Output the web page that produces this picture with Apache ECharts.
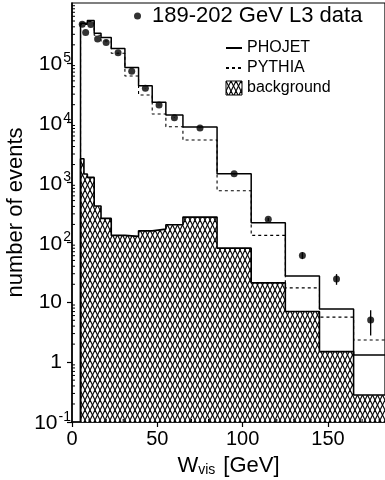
<!DOCTYPE html>
<html>
<head>
<meta charset="utf-8">
<script src="https://cdn.jsdelivr.net/npm/echarts@6/dist/echarts.min.js"></script>
<style>
  html, body { margin: 0; padding: 0; background: #fff; }
  #chart { width: 385px; height: 480px; }
</style>
</head>
<body>
<div id="chart"></div>
<script>
// Visible-energy spectrum: data, two generator predictions and background
const binEdges = [5, 7, 9, 13, 17, 23, 31, 39, 47, 55, 65, 85, 105, 125, 145, 165, 185];

const dataX   = [6, 8, 11, 15, 20, 27, 35, 43, 51, 60, 75, 95, 115, 135, 155, 175];
const dataY   = [4.42e5, 3.22e5, 4.37e5, 2.51e5, 2.18e5, 1.48e5, 7.24e4, 3.76e4, 1.98e4, 1.21e4, 8150, 1400, 243, 60.6, 24.6, 5.08];
const dataErr = [700, 570, 660, 500, 470, 380, 270, 190, 140, 110, 90, 37, 16, 8, 5, 2.3];

const phojet     = [4.59e5, 4.59e5, 5.08e5, 3.13e5, 2.64e5, 1.74e5, 8.4e4, 4.16e4, 2.19e4, 1.35e4, 8470, 1400, 213, 27.6, 7.76, 1.32];
const pythia     = [4.4e5, 4.4e5, 4.9e5, 2.9e5, 2.32e5, 1.45e5, 6.04e4, 2.9e4, 1.4e4, 8570, 5140, 729, 131, 17.4, 5.64, 2.35];
const background = [2500, 1390, 1220, 405, 252, 131, 126, 156, 167, 197, 265, 80.3, 21.1, 7.0, 1.50, 0.283];

const xTickValues = [0, 50, 100, 150];
const Y_MIN = 0.1, Y_MAX = 1e6;
const X_MIN = 0, X_MAX = 183.4;

const FONT = 'Liberation Sans, Arial, Helvetica, sans-serif';

// Histogram outline: start at the axis floor, then one point per bin edge
function stepData(vals) {
  const d = [[binEdges[0], Y_MIN]];
  for (let i = 0; i < vals.length; i++) d.push([binEdges[i], vals[i]]);
  d.push([binEdges[vals.length], vals[vals.length - 1]]);
  return d;
}

// Diamond cross-hatch used for the background fill
function hatchPattern() {
  const c = document.createElement('canvas');
  c.width = 5; c.height = 10;
  const g = c.getContext('2d');
  g.fillStyle = '#fff';
  g.fillRect(0, 0, 5, 10);
  g.strokeStyle = '#000';
  g.lineWidth = 1.15;
  for (const o of [-10, 0, 10]) {
    g.beginPath(); g.moveTo(0, o); g.lineTo(5, o + 10); g.stroke();
    g.beginPath(); g.moveTo(0, 10 + o); g.lineTo(5, o); g.stroke();
  }
  return { image: c, repeat: 'repeat' };
}
const hatch = hatchPattern();

// Minor tick positions (log decades on y, every 10 GeV on x)
const yMinorTicks = [];
for (let e = -1; e < 6; e++) for (let m = 2; m <= 9; m++) yMinorTicks.push(m * Math.pow(10, e));
const xMinorTicks = [];
for (let v = 10; v < X_MAX; v += 10) if (v % 50 !== 0) xMinorTicks.push(v);

const errData = dataX.map((x, i) => [x, dataY[i] - dataErr[i], dataY[i] + dataErr[i]]);

const chart = echarts.init(document.getElementById('chart'), null, { renderer: 'canvas' });

chart.setOption({
  animation: false,
  backgroundColor: '#fff',
  textStyle: { fontFamily: FONT, color: '#000' },
  grid: {
    left: 72, right: 0, top: 3, bottom: 58,
    show: true, borderColor: '#000', borderWidth: 1.2,
    containLabel: false, outerBoundsMode: 'none'
  },
  legend: [
    {
      left: 134, top: 5, padding: 0,
      itemWidth: 7, itemHeight: 7,
      textStyle: { fontSize: 22, fontFamily: FONT, color: '#000', padding: [0, 0, 0, 6] },
      data: [{ name: '189-202 GeV L3 data', icon: 'circle' }]
    },
    {
      left: 225, top: 40, padding: 0, orient: 'vertical',
      itemWidth: 16, itemHeight: 14, itemGap: 4,
      textStyle: { fontSize: 16, fontFamily: FONT, color: '#000' },
      data: [
        { name: 'PHOJET', itemStyle: { opacity: 0 } },
        { name: 'PYTHIA', itemStyle: { opacity: 0 } },
        { name: 'background', icon: 'rect', itemStyle: { color: hatch, borderColor: '#000', borderWidth: 1 } }
      ]
    }
  ],
  xAxis: {
    type: 'value', min: X_MIN, max: X_MAX, interval: 50,
    name: 'W{sub|vis} [GeV]', nameLocation: 'middle', nameGap: 33, nameMoveOverlap: false,
    nameTextStyle: {
      fontSize: 22, fontFamily: FONT, color: '#000',
      rich: { sub: { fontSize: 14, fontFamily: FONT, verticalAlign: 'bottom', padding: [8, 2, 0, 0] } }
    },
    axisLine: { show: true, lineStyle: { color: '#000', width: 1.5 } },
    axisTick: { show: true, length: 5, lineStyle: { color: '#000', width: 1.2 } },
    splitLine: { show: false },
    axisLabel: {
      fontSize: 20, fontFamily: FONT, color: '#000', margin: 7, showMaxLabel: false,
      formatter: v => (xTickValues.includes(v) ? String(v) : '')
    }
  },
  yAxis: {
    type: 'log', min: Y_MIN, max: Y_MAX, logBase: 10,
    name: 'number of events', nameLocation: 'middle', nameGap: 45, nameMoveOverlap: false,
    nameTextStyle: { fontSize: 22, fontFamily: FONT, color: '#000' },
    axisLine: { show: true, lineStyle: { color: '#000', width: 1.5 } },
    axisTick: { show: true, length: 5, lineStyle: { color: '#000', width: 1.2 } },
    splitLine: { show: false },
    axisLabel: {
      fontFamily: FONT, color: '#000', margin: 1, showMaxLabel: false,
      formatter: v => {
        const e = Math.round(Math.log10(v));
        if (e >= 6) return '';
        if (e === 0) return '{p|1}';
        if (e === 1) return '{p|10}';
        return '{b|10}{s|' + e + '}';
      },
      rich: {
        b: { fontSize: 21, fontFamily: FONT, color: '#000', verticalAlign: 'bottom' },
        p: { fontSize: 21, fontFamily: FONT, color: '#000', verticalAlign: 'bottom', padding: [0, 9, 0, 0] },
        s: { fontSize: 14, fontFamily: FONT, color: '#000', verticalAlign: 'top', padding: [0, 0, 10, 1] }
      }
    }
  },
  series: [
    {
      name: 'background', type: 'line', step: 'end', symbol: 'none',
      data: stepData(background),
      lineStyle: { color: '#000', width: 1.6 },
      itemStyle: { color: '#000' },
      areaStyle: { color: hatch, origin: 'start', opacity: 1 },
      z: 1
    },
    {
      name: 'PYTHIA', type: 'line', step: 'end', symbol: 'none',
      data: stepData(pythia),
      lineStyle: { color: '#000', width: 1.1, type: [3, 3] },
      itemStyle: { color: '#000' },
      z: 2
    },
    {
      name: 'PHOJET', type: 'line', step: 'end', symbol: 'none',
      data: stepData(phojet),
      lineStyle: { color: '#000', width: 1.5 },
      itemStyle: { color: '#000' },
      z: 3
    },
    {
      name: 'errors', type: 'custom', data: errData, z: 4, silent: true,
      renderItem: (params, api) => {
        const p1 = api.coord([api.value(0), api.value(1)]);
        const p2 = api.coord([api.value(0), api.value(2)]);
        return { type: 'line', shape: { x1: p1[0], y1: p1[1], x2: p2[0], y2: p2[1] }, style: { stroke: '#000', lineWidth: 1.3 } };
      }
    },
    {
      name: '189-202 GeV L3 data', type: 'scatter', symbol: 'circle', symbolSize: 7,
      data: dataX.map((x, i) => [x, dataY[i]]),
      itemStyle: { color: '#000' },
      z: 5
    },
    {
      name: 'yMinor', type: 'custom', silent: true, z: 6, clip: false,
      data: yMinorTicks.map(v => [X_MIN, v]),
      renderItem: (params, api) => {
        const p = api.coord([api.value(0), api.value(1)]);
        return { type: 'line', shape: { x1: p[0], y1: p[1], x2: p[0] + 3, y2: p[1] }, style: { stroke: '#000', lineWidth: 1 } };
      }
    },
    {
      name: 'xMinor', type: 'custom', silent: true, z: 6, clip: false,
      data: xMinorTicks.map(v => [v, Y_MIN]),
      renderItem: (params, api) => {
        const p = api.coord([api.value(0), api.value(1)]);
        return { type: 'line', shape: { x1: p[0], y1: p[1], x2: p[0], y2: p[1] - 3 }, style: { stroke: '#000', lineWidth: 1 } };
      }
    }
  ]
});
</script>
</body>
</html>
